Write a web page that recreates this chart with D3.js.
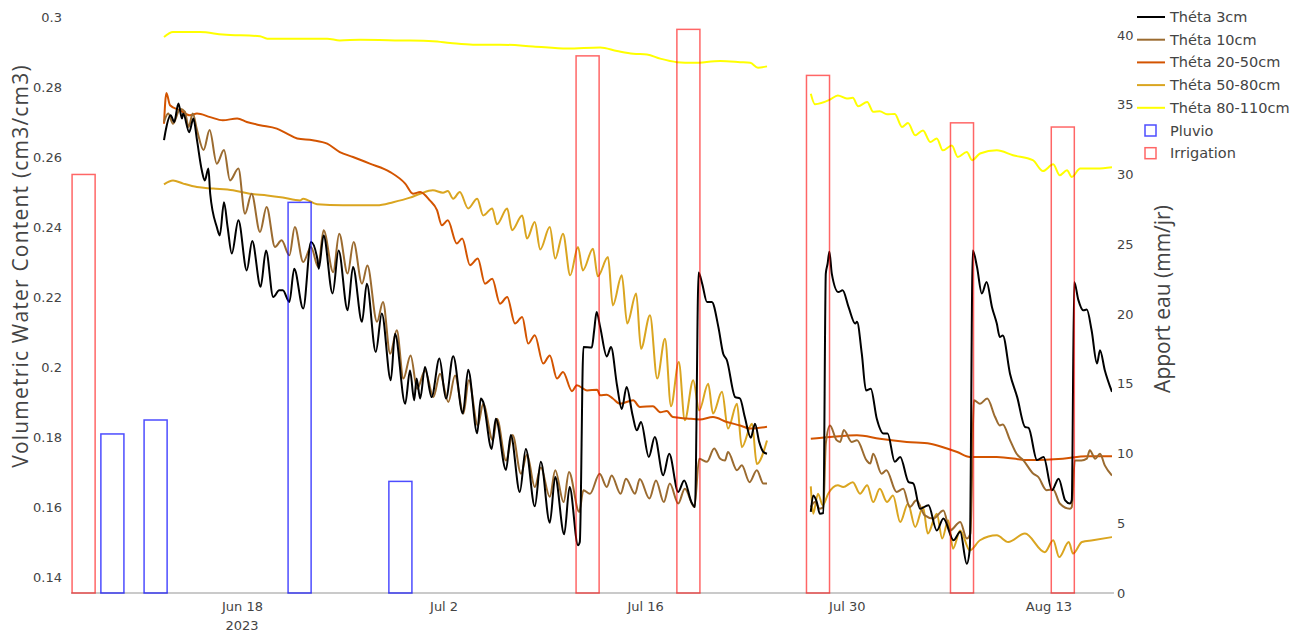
<!DOCTYPE html>
<html>
<head>
<meta charset="utf-8">
<script src="https://cdn.jsdelivr.net/npm/d3@7"></script>
<style>
  body { margin: 0; background: #fff; }
  svg text { font-family: "DejaVu Sans", Verdana, sans-serif; fill: #444; }
  .title { font-family: "Open Sans", sans-serif; }
</style>
</head>
<body>
<div id="chart"></div>
<script>
// time of each reading = hours after 2023-06-01 00:00, value in cm3/cm3
// null marks the gap in the sensor record
const theta3 = [[278,0.2648],[281,0.2677],[289,0.2719],[295,0.2700],[302,0.2753],[308,0.2710],[310,0.2724],[320,0.2671],[327,0.2710],[333,0.2648],[341,0.2562],[346,0.2533],[352,0.2567],[355,0.2495],[366,0.2400],[371,0.2376],[378,0.2471],[384,0.2400],[391,0.2324],[402,0.2419],[416,0.2276],[425,0.2360],[439,0.2229],[448,0.2333],[460,0.2200],[470,0.2219],[476,0.2219],[487,0.2186],[495,0.2281],[510,0.2167],[523,0.2357],[534,0.2305],[536,0.2281],[544,0.2376],[559,0.2210],[569,0.2333],[584,0.2162],[593,0.2286],[608,0.2129],[616,0.2238],[631,0.2043],[641,0.2153],[656,0.1962],[663,0.2095],[680,0.1895],[688,0.1990],[695,0.1905],[699,0.1967],[705,0.1910],[713,0.2000],[724,0.1914],[737,0.2024],[748,0.1910],[760,0.2031],[776,0.1867],[785,0.1992],[800,0.1811],[806,0.1910],[810,0.1900],[824,0.1766],[831,0.1852],[848,0.1706],[856,0.1806],[871,0.1643],[881,0.1766],[896,0.1602],[906,0.1729],[921,0.1555],[930,0.1686],[945,0.1522],[954,0.1657],[968,0.1491],[971,0.1500],[977,0.2057],[991,0.2056],[995,0.2105],[999,0.2157],[1005,0.2114],[1016,0.2030],[1023,0.2057],[1033,0.1948],[1041,0.1880],[1049,0.1943],[1059,0.1862],[1066,0.1819],[1073,0.1843],[1086,0.1743],[1096,0.1800],[1110,0.1691],[1120,0.1752],[1135,0.1643],[1145,0.1676],[1157,0.1614],[1163,0.1600],[1169,0.2270],[1175,0.2238],[1183,0.2186],[1191,0.2186],[1202,0.2114],[1210,0.2038],[1216,0.2020],[1230,0.1914],[1238,0.1910],[1246,0.1857],[1256,0.1798],[1263,0.1838],[1270,0.1786],[1277,0.1757],[1283,0.1752],[1320,null],
  [1356,0.1586],[1360,0.1633],[1366,0.1614],[1371,0.1581],[1377,0.1583],[1381,0.2267],[1384,0.2295],[1387,0.2329],[1391,0.2267],[1402,0.2214],[1409,0.2219],[1419,0.2171],[1430,0.2124],[1433,0.2129],[1441,0.2038],[1448,0.1933],[1456,0.1938],[1466,0.1852],[1477,0.1810],[1484,0.1810],[1496,0.1729],[1505,0.1743],[1519,0.1671],[1527,0.1667],[1538,0.1595],[1552,0.1605],[1566,0.1533],[1577,0.1567],[1594,0.1505],[1605,0.1529],[1616,0.1438],[1621,0.1481],[1626,0.2333],[1633,0.2286],[1641,0.2210],[1649,0.2243],[1658,0.2171],[1666,0.2124],[1671,0.2086],[1676,0.2090],[1688,0.1981],[1700,0.1914],[1713,0.1829],[1719,0.1826],[1733,0.1734],[1744,0.1743],[1758,0.1648],[1769,0.1681],[1780,0.1619],[1788,0.1610],[1791,0.1620],[1795,0.2243],[1802,0.2191],[1810,0.2162],[1816,0.2164],[1824,0.2105],[1833,0.2010],[1838,0.2048],[1846,0.1991],[1858,0.1929]];

const theta10 = [[278,0.2700],[285,0.2724],[293,0.2695],[305,0.2738],[313,0.2729],[319,0.2686],[326,0.2724],[333,0.2677],[344,0.2620],[354,0.2677],[366,0.2581],[378,0.2620],[388,0.2533],[402,0.2567],[413,0.2438],[424,0.2495],[438,0.2386],[449,0.2457],[463,0.2343],[474,0.2362],[487,0.2319],[496,0.2400],[510,0.2300],[523,0.2343],[535,0.2286],[544,0.2391],[560,0.2271],[570,0.2381],[584,0.2267],[594,0.2357],[608,0.2238],[617,0.2290],[633,0.2129],[643,0.2186],[655,0.2038],[666,0.2105],[677,0.1967],[689,0.2033],[700,0.1938],[713,0.1990],[727,0.1914],[738,0.1981],[752,0.1900],[763,0.1976],[777,0.1867],[786,0.1962],[801,0.1833],[810,0.1895],[826,0.1791],[833,0.1852],[848,0.1733],[859,0.1806],[873,0.1695],[883,0.1750],[896,0.1657],[906,0.1713],[921,0.1629],[930,0.1705],[944,0.1614],[953,0.1700],[970,0.1586],[977,0.1648],[988,0.1638],[1004,0.1695],[1016,0.1657],[1024,0.1690],[1039,0.1638],[1048,0.1681],[1063,0.1638],[1071,0.1680],[1087,0.1624],[1098,0.1676],[1111,0.1614],[1121,0.1667],[1135,0.1610],[1146,0.1652],[1162,0.1600],[1170,0.1738],[1183,0.1729],[1195,0.1767],[1205,0.1738],[1213,0.1733],[1218,0.1757],[1233,0.1705],[1241,0.1719],[1254,0.1671],[1266,0.1705],[1277,0.1667],[1283,0.1667],[1320,null],
  [1356,0.1600],[1363,0.1614],[1371,0.1595],[1377,0.1600],[1381,0.1781],[1388,0.1833],[1399,0.1791],[1405,0.1786],[1411,0.1820],[1424,0.1786],[1433,0.1791],[1449,0.1733],[1455,0.1724],[1460,0.1752],[1474,0.1695],[1482,0.1705],[1499,0.1643],[1510,0.1652],[1521,0.1600],[1532,0.1619],[1546,0.1576],[1560,0.1567],[1577,0.1590],[1588,0.1533],[1605,0.1557],[1616,0.1510],[1622,0.1524],[1628,0.1905],[1638,0.1895],[1650,0.1910],[1663,0.1858],[1671,0.1833],[1676,0.1836],[1688,0.1791],[1699,0.1752],[1710,0.1734],[1727,0.1695],[1735,0.1686],[1749,0.1648],[1760,0.1650],[1771,0.1610],[1788,0.1595],[1791,0.1600],[1796,0.1733],[1807,0.1733],[1816,0.1738],[1821,0.1762],[1830,0.1738],[1838,0.1752],[1846,0.1719],[1858,0.1690]];

const theta2050 = [[278,0.2695],[282,0.2783],[288,0.2748],[305,0.2733],[321,0.2719],[333,0.2724],[355,0.2714],[376,0.2705],[400,0.2710],[416,0.2700],[438,0.2691],[466,0.2681],[483,0.2667],[500,0.2653],[526,0.2648],[550,0.2638],[571,0.2614],[593,0.2600],[621,0.2581],[655,0.2557],[680,0.2524],[693,0.2495],[705,0.2500],[721,0.2476],[733,0.2448],[741,0.2405],[751,0.2419],[766,0.2353],[775,0.2367],[788,0.2291],[801,0.2310],[813,0.2238],[825,0.2252],[838,0.2181],[850,0.2200],[863,0.2124],[875,0.2143],[885,0.2067],[896,0.2091],[910,0.2010],[921,0.2033],[933,0.1967],[943,0.1986],[958,0.1931],[966,0.1948],[983,0.1933],[1000,0.1935],[1005,0.1919],[1016,0.1921],[1026,0.1910],[1038,0.1895],[1060,0.1905],[1071,0.1886],[1093,0.1888],[1105,0.1871],[1116,0.1874],[1126,0.1857],[1150,0.1853],[1171,0.1850],[1193,0.1857],[1216,0.1843],[1238,0.1833],[1255,0.1824],[1283,0.1829],[1320,null],
  [1356,0.1795],[1388,0.1800],[1433,0.1805],[1471,0.1795],[1516,0.1786],[1555,0.1781],[1583,0.1767],[1600,0.1757],[1621,0.1743],[1666,0.1743],[1721,0.1734],[1776,0.1738],[1816,0.1745],[1858,0.1745]];

const theta5080 = [[278,0.2522],[293,0.2533],[310,0.2524],[333,0.2514],[360,0.2510],[393,0.2505],[421,0.2495],[450,0.2490],[476,0.2484],[505,0.2476],[510,0.2481],[533,0.2465],[576,0.2462],[633,0.2462],[660,0.2471],[688,0.2484],[705,0.2495],[726,0.2505],[743,0.2498],[751,0.2503],[760,0.2481],[771,0.2500],[785,0.2453],[800,0.2481],[810,0.2433],[825,0.2453],[833,0.2408],[850,0.2453],[858,0.2391],[875,0.2433],[883,0.2367],[896,0.2414],[905,0.2336],[921,0.2400],[930,0.2310],[943,0.2381],[955,0.2262],[968,0.2343],[976,0.2276],[993,0.2338],[1001,0.2259],[1018,0.2314],[1026,0.2176],[1041,0.2262],[1050,0.2124],[1065,0.2210],[1073,0.2052],[1088,0.2148],[1100,0.1967],[1113,0.2081],[1123,0.1888],[1136,0.2014],[1146,0.1848],[1160,0.1962],[1170,0.1876],[1185,0.1952],[1193,0.1867],[1208,0.1929],[1218,0.1824],[1233,0.1895],[1241,0.1771],[1258,0.1838],[1266,0.1723],[1283,0.1790],[1320,null],
  [1356,0.1659],[1360,0.1581],[1368,0.1638],[1376,0.1605],[1385,0.1638],[1401,0.1662],[1410,0.1657],[1426,0.1671],[1438,0.1638],[1450,0.1662],[1460,0.1614],[1471,0.1652],[1483,0.1614],[1493,0.1633],[1505,0.1557],[1518,0.1609],[1530,0.1543],[1543,0.1600],[1551,0.1524],[1566,0.1581],[1575,0.1510],[1585,0.1562],[1593,0.1481],[1605,0.1533],[1621,0.1476],[1638,0.1505],[1666,0.1519],[1685,0.1500],[1713,0.1524],[1746,0.1471],[1760,0.1505],[1770,0.1457],[1786,0.1500],[1793,0.1467],[1808,0.1500],[1826,0.1505],[1858,0.1514]];

const theta80110 = [[278,0.2943],[293,0.2957],[338,0.2957],[376,0.2950],[438,0.2945],[450,0.2938],[550,0.2938],[571,0.2933],[605,0.2935],[671,0.2933],[726,0.2931],[755,0.2926],[793,0.2921],[838,0.2921],[893,0.2916],[950,0.2910],[1005,0.2913],[1033,0.2903],[1060,0.2895],[1083,0.2893],[1105,0.2881],[1133,0.2871],[1160,0.2869],[1205,0.2874],[1238,0.2871],[1255,0.2869],[1268,0.2855],[1283,0.2859],[1320,null],
  [1356,0.2781],[1363,0.2751],[1388,0.2764],[1401,0.2776],[1416,0.2767],[1426,0.2769],[1435,0.2745],[1450,0.2757],[1460,0.2729],[1471,0.2731],[1483,0.2722],[1496,0.2723],[1508,0.2686],[1518,0.2697],[1530,0.2662],[1543,0.2676],[1555,0.2643],[1566,0.2653],[1576,0.2619],[1591,0.2633],[1601,0.2600],[1616,0.2614],[1625,0.2591],[1638,0.2610],[1666,0.2619],[1693,0.2605],[1726,0.2591],[1743,0.2560],[1760,0.2579],[1771,0.2548],[1783,0.2562],[1791,0.2543],[1805,0.2567],[1833,0.2567],[1858,0.2571]];

// daily water supply (mm/jr)
const pluvioDates = ["2023-06-09", "2023-06-12", "2023-06-22", "2023-06-29"];
const pluvioValues = [11.4, 12.4, 28, 8];
const irrigationDates = ["2023-06-07", "2023-07-12", "2023-07-19", "2023-07-28", "2023-08-07", "2023-08-14"];
const irrigationValues = [30, 38.5, 40.4, 37.1, 33.7, 33.4];

const leftTicks = [0.14, 0.16, 0.18, 0.2, 0.22, 0.24, 0.26, 0.28, 0.3];
const rightTicks = [0, 5, 10, 15, 20, 25, 30, 35, 40];
const xTickDates = ["2023-06-18", "2023-07-02", "2023-07-16", "2023-07-30", "2023-08-13"];

const series = [
  { name: "Théta 3cm", data: theta3, color: "#000000" },
  { name: "Théta 10cm", data: theta10, color: "#9b6b30" },
  { name: "Théta 20-50cm", data: theta2050, color: "#d35400" },
  { name: "Théta 50-80cm", data: theta5080, color: "#daa520" },
  { name: "Théta 80-110cm", data: theta80110, color: "#ffff00" },
];

const width = 1309;
const height = 635;
const plot = { left: 71, right: 1112, top: 3, bottom: 593 };

const parseDay = d3.timeParse("%Y-%m-%d");
const t0 = new Date(2023, 5, 1);
const hourToDate = (h) => new Date(t0.getTime() + h * 3600e3);
const dayMs = 24 * 3600e3;

const svg = d3.select("#chart")
  .append("svg")
  .attr("width", width)
  .attr("height", height);

// scales
const x = d3.scaleTime()
  .domain([new Date(t0.getTime() + 5.125 * dayMs), new Date(t0.getTime() + 77.417 * dayMs)])
  .range([plot.left, plot.right]);
const y = d3.scaleLinear().domain([0.13543, 0.304]).range([plot.bottom, plot.top]);
const y2 = d3.scaleLinear().domain([0, 42.29]).range([plot.bottom, plot.top]);

svg.append("clipPath").attr("id", "clip")
  .append("rect")
  .attr("x", plot.left).attr("y", plot.top)
  .attr("width", plot.right - plot.left).attr("height", plot.bottom - plot.top);

// x axis line
svg.append("line")
  .attr("x1", plot.left).attr("x2", plot.right + 2)
  .attr("y1", plot.bottom).attr("y2", plot.bottom)
  .attr("stroke", "#b8b8b8").attr("stroke-width", 1.5);

// axes
const leftAxis = svg.append("g")
  .attr("transform", `translate(${plot.left},0)`)
  .call(d3.axisLeft(y).tickValues(leftTicks).tickSize(0).tickPadding(9).tickFormat(d3.format("~g")));
const rightAxis = svg.append("g")
  .attr("transform", `translate(${plot.right},0)`)
  .call(d3.axisRight(y2).tickValues(rightTicks).tickSize(0).tickPadding(5));
const bottomAxis = svg.append("g")
  .attr("transform", `translate(0,${plot.bottom})`)
  .call(d3.axisBottom(x).tickValues(xTickDates.map(parseDay)).tickSize(0).tickPadding(9)
    .tickFormat(d3.timeFormat("%b %-d")));

[leftAxis, rightAxis, bottomAxis].forEach((g) => {
  g.select(".domain").remove();
  g.selectAll("text").style("font-size", "13px").style("font-family", null).attr("fill", "#444");
});

svg.append("text")
  .attr("x", x(parseDay(xTickDates[0])))
  .attr("y", plot.bottom + 37)
  .attr("text-anchor", "middle")
  .style("font-size", "13px")
  .text("2023");

// axis titles
svg.append("text")
  .attr("class", "title")
  .attr("transform", "translate(28,266) rotate(-90)")
  .attr("text-anchor", "middle")
  .style("font-size", "21px")
  .style("letter-spacing", "1.2px")
  .text("Volumetric Water Content (cm3/cm3)");

svg.append("text")
  .attr("class", "title")
  .attr("transform", "translate(1170,299) rotate(-90)")
  .attr("text-anchor", "middle")
  .style("font-size", "21px")
  .text("Apport eau (mm/jr)");

// sensor lines
const line = d3.line()
  .defined((d) => d[1] !== null)
  .curve(d3.curveMonotoneX)
  .x((d) => x(hourToDate(d[0])))
  .y((d) => y(d[1]));

const lines = svg.append("g").attr("clip-path", "url(#clip)");
series.slice().reverse().forEach((s) => {
  lines.append("path")
    .datum(s.data)
    .attr("fill", "none")
    .attr("stroke", s.color)
    .attr("stroke-width", 2)
    .attr("stroke-linejoin", "round")
    .attr("d", line);
});

// water bars (outline only), width 1.6 days
const bars = svg.append("g");
function drawBars(dates, values, color) {
  bars.selectAll(null)
    .data(dates.map((d, i) => ({ date: parseDay(d), value: values[i] })))
    .enter()
    .append("rect")
    .attr("x", (d) => x(new Date(d.date.getTime() - 0.8 * dayMs)))
    .attr("width", (d) => x(new Date(d.date.getTime() + 0.8 * dayMs)) - x(new Date(d.date.getTime() - 0.8 * dayMs)))
    .attr("y", (d) => y2(d.value))
    .attr("height", (d) => y2(0) - y2(d.value))
    .attr("fill", "none")
    .attr("stroke", color)
    .attr("stroke-width", 1.5);
}
drawBars(pluvioDates, pluvioValues, "rgba(0,0,255,0.7)");
drawBars(irrigationDates, irrigationValues, "rgba(255,0,0,0.6)");

// legend
const legend = svg.append("g").attr("transform", "translate(1132,0)");
const rowY = (i) => 17 + i * 22.7;
series.forEach((s, i) => {
  legend.append("line")
    .attr("x1", 5).attr("x2", 33)
    .attr("y1", rowY(i)).attr("y2", rowY(i))
    .attr("stroke", s.color).attr("stroke-width", 2);
  legend.append("text")
    .attr("x", 38).attr("y", rowY(i)).attr("dy", "0.35em")
    .style("font-size", "14.5px")
    .text(s.name);
});
[["Pluvio", "rgba(0,0,255,0.7)"], ["Irrigation", "rgba(255,0,0,0.6)"]].forEach(([name, color], j) => {
  const i = series.length + j;
  legend.append("rect")
    .attr("x", 13).attr("y", rowY(i) - 5.5)
    .attr("width", 11).attr("height", 11)
    .attr("fill", "none").attr("stroke", color).attr("stroke-width", 1.5);
  legend.append("text")
    .attr("x", 38).attr("y", rowY(i)).attr("dy", "0.35em")
    .style("font-size", "14.5px")
    .text(name);
});
</script>
</body>
</html>
